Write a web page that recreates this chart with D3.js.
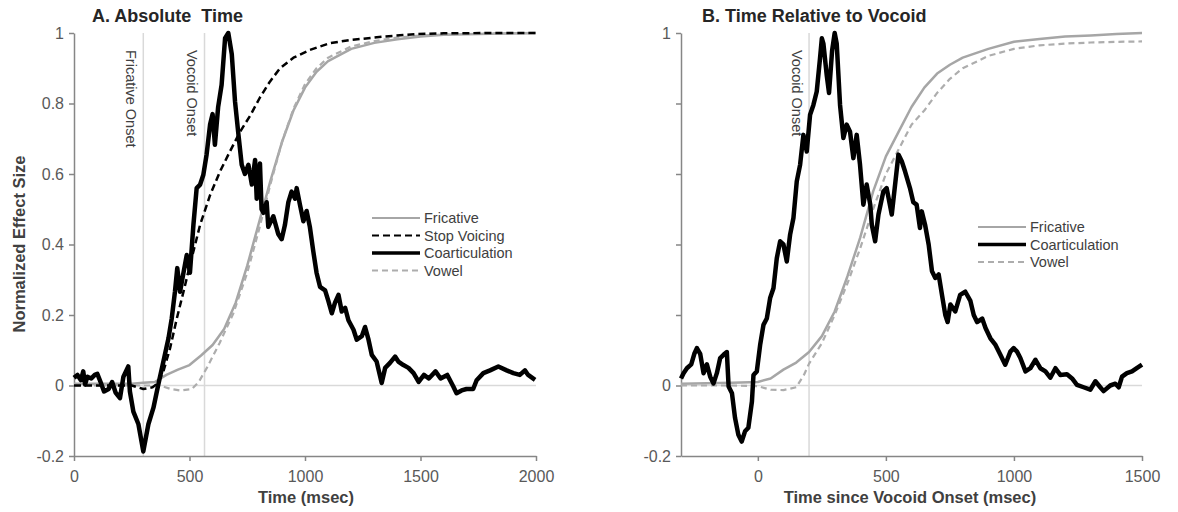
<!DOCTYPE html>
<html><head><meta charset="utf-8">
<script src="https://cdn.jsdelivr.net/npm/d3@7/dist/d3.min.js"></script>
<style>
html,body{margin:0;padding:0;background:#fff;}
svg{display:block;font-family:"Liberation Sans",Arial,sans-serif;}
</style></head>
<body><svg id="chart" width="1178" height="512"></svg>
<script>
// ---------- DATA ----------
const titleA = "A. Absolute\u00a0 Time";
const titleB = "B. Time Relative to Vocoid";
const yLabel = "Normalized Effect Size";
const xLabelA = "Time (msec)";
const xLabelB = "Time since Vocoid Onset (msec)";
const yTicks = [-0.2, 0, 0.2, 0.4, 0.6, 0.8, 1];
const yTickLabelsA = ["-0.2", "0", "0.2", "0.4", "0.6", "0.8", "1"];
const yTickLabelsB = ["-0.2", "0", "", "", "", "", "1"];
const xTicksA = [0, 500, 1000, 1500, 2000];
const xTicksB = [0, 500, 1000, 1500];
const xDomainA = [0, 2000];
const xDomainB = [-300, 1500];
const yDomain = [-0.2, 1];
const markersA = [{t: 300, label: "Fricative Onset"}, {t: 565, label: "Vocoid Onset"}];
const markersB = [{t: 200, label: "Vocoid Onset"}];
const seriesNamesA = ["Fricative", "Stop Voicing", "Coarticulation", "Vowel"];
const seriesNamesB = ["Fricative", "Coarticulation", "Vowel"];

// Panel A series
const fricTimeA = [0, 250, 300, 350, 400, 450, 500, 550, 600, 650, 700, 750, 800, 850, 900, 950, 1000, 1050, 1100, 1200, 1300, 1400, 1500, 1600, 1800, 2000];
const fricA     = [0.005, 0.005, 0.008, 0.01, 0.03, 0.045, 0.058, 0.085, 0.115, 0.16, 0.235, 0.34, 0.46, 0.58, 0.69, 0.78, 0.845, 0.89, 0.92, 0.955, 0.972, 0.982, 0.99, 0.995, 0.998, 1.0];
const stopTimeA = [0, 250, 300, 340, 360, 387, 416, 445, 474, 502, 546, 589, 632, 675, 719, 762, 805, 848, 892, 950, 1021, 1108, 1195, 1342, 1486, 1600, 1800, 2000];
const stopA     = [0.0, 0.0, -0.01, -0.005, 0.005, 0.04, 0.106, 0.19, 0.266, 0.342, 0.456, 0.54, 0.607, 0.664, 0.72, 0.765, 0.817, 0.862, 0.9, 0.93, 0.952, 0.971, 0.98, 0.99, 0.997, 0.999, 1.0, 1.0];
const vowelTimeA = [0, 300, 370, 420, 460, 510, 540, 575, 630, 690, 750, 800, 850, 900, 950, 1000, 1050, 1100, 1200, 1300, 1400, 1500, 1700, 2000];
const vowelA     = [0.0, 0.0, 0.0, -0.01, -0.014, -0.01, 0.01, 0.05, 0.12, 0.205, 0.32, 0.44, 0.57, 0.69, 0.785, 0.855, 0.9, 0.93, 0.962, 0.977, 0.987, 0.993, 0.998, 1.0];
const coartTimeA = [0, 15, 30, 40, 48, 58, 75, 90, 101, 115, 130, 150, 165, 180, 199, 214, 235, 242, 257, 279, 300, 322, 344, 365, 387, 409, 423, 437, 447, 459, 474, 488, 502, 517, 531, 546, 560, 574, 589, 600, 610, 624, 639, 654, 668, 683, 697, 712, 726, 740, 755, 770, 784, 791, 805, 812, 820, 834, 841, 863, 884, 899, 913, 928, 942, 957, 964, 978, 993, 1007, 1021, 1036, 1050, 1065, 1087, 1101, 1116, 1130, 1145, 1159, 1174, 1188, 1210, 1224, 1246, 1260, 1275, 1289, 1310, 1332, 1347, 1368, 1390, 1404, 1426, 1448, 1470, 1492, 1515, 1536, 1565, 1587, 1616, 1642, 1656, 1678, 1699, 1728, 1743, 1772, 1801, 1837, 1873, 1902, 1930, 1952, 1966, 1996];
const coartA     = [0.022, 0.03, 0.015, 0.04, 0.003, 0.025, 0.02, 0.03, 0.033, 0.01, -0.017, -0.01, 0.01, -0.02, -0.036, 0.025, 0.054, -0.017, -0.074, -0.11, -0.187, -0.11, -0.063, 0.003, 0.068, 0.134, 0.19, 0.266, 0.333, 0.266, 0.32, 0.37, 0.32, 0.456, 0.56, 0.57, 0.598, 0.655, 0.74, 0.77, 0.683, 0.79, 0.853, 0.985, 1.0, 0.94, 0.806, 0.711, 0.626, 0.6, 0.626, 0.57, 0.64, 0.53, 0.63, 0.5, 0.49, 0.52, 0.45, 0.48, 0.43, 0.415, 0.455, 0.52, 0.55, 0.53, 0.56, 0.513, 0.466, 0.495, 0.45, 0.38, 0.32, 0.28, 0.27, 0.24, 0.205, 0.235, 0.257, 0.21, 0.22, 0.185, 0.158, 0.13, 0.14, 0.166, 0.13, 0.087, 0.068, 0.007, 0.05, 0.064, 0.082, 0.068, 0.058, 0.05, 0.035, 0.01, 0.03, 0.02, 0.04, 0.02, 0.03, -0.003, -0.022, -0.014, -0.01, -0.01, 0.015, 0.035, 0.043, 0.054, 0.043, 0.035, 0.03, 0.043, 0.03, 0.016];

// Panel B series
const fricTimeB = [-300, -100, 0, 50, 100, 150, 200, 250, 300, 350, 400, 450, 500, 550, 600, 650, 700, 750, 800, 900, 1000, 1100, 1200, 1300, 1400, 1500];
const fricB     = [0.005, 0.008, 0.01, 0.02, 0.045, 0.065, 0.095, 0.14, 0.21, 0.31, 0.42, 0.55, 0.65, 0.72, 0.79, 0.845, 0.885, 0.91, 0.93, 0.955, 0.975, 0.983, 0.99, 0.993, 0.997, 1.0];
const vowelTimeB = [-300, -100, 0, 50, 100, 150, 180, 200, 250, 300, 350, 400, 450, 500, 550, 600, 650, 700, 750, 800, 900, 1000, 1100, 1200, 1300, 1400, 1500];
const vowelB     = [0.0, 0.0, -0.002, -0.012, -0.013, -0.005, 0.03, 0.062, 0.12, 0.2, 0.29, 0.39, 0.5, 0.6, 0.67, 0.74, 0.78, 0.83, 0.87, 0.9, 0.935, 0.955, 0.965, 0.97, 0.973, 0.975, 0.976];
const coartTimeB = [-300, -290, -277, -260, -248, -238, -225, -212, -199, -186, -173, -160, -147, -134, -121, -114, -101, -89, -76, -63, -50, -37, -23, -17, -4, 9, 22, 35, 48, 61, 74, 87, 100, 113, 126, 139, 152, 165, 178, 191, 204, 217, 230, 243, 250, 256, 269, 278, 290, 300, 308, 321, 334, 347, 360, 373, 386, 399, 412, 425, 439, 445, 458, 471, 490, 503, 523, 536, 549, 562, 575, 594, 607, 620, 633, 640, 653, 667, 680, 693, 706, 719, 732, 741, 752, 771, 790, 810, 830, 843, 856, 876, 889, 908, 928, 947, 966, 986, 999, 1012, 1025, 1045, 1064, 1084, 1103, 1123, 1142, 1162, 1181, 1207, 1227, 1246, 1272, 1298, 1318, 1337, 1350, 1376, 1396, 1409, 1422, 1441, 1461, 1481, 1500];
const coartB     = [0.02, 0.035, 0.049, 0.06, 0.09, 0.106, 0.09, 0.035, 0.06, 0.025, 0.006, 0.035, 0.078, 0.087, 0.095, -0.003, -0.022, -0.092, -0.14, -0.159, -0.13, -0.12, -0.045, 0.03, 0.04, 0.115, 0.172, 0.19, 0.248, 0.276, 0.361, 0.409, 0.4, 0.352, 0.428, 0.475, 0.579, 0.626, 0.711, 0.664, 0.768, 0.796, 0.834, 0.93, 0.985, 0.97, 0.88, 0.83, 0.95, 1.0, 0.97, 0.796, 0.702, 0.74, 0.72, 0.645, 0.711, 0.626, 0.513, 0.57, 0.513, 0.456, 0.409, 0.485, 0.55, 0.56, 0.485, 0.57, 0.655, 0.636, 0.607, 0.56, 0.52, 0.513, 0.447, 0.494, 0.456, 0.4, 0.324, 0.305, 0.315, 0.257, 0.2, 0.18, 0.23, 0.21, 0.257, 0.266, 0.24, 0.2, 0.18, 0.19, 0.163, 0.134, 0.115, 0.087, 0.059, 0.096, 0.106, 0.096, 0.078, 0.04, 0.049, 0.073, 0.049, 0.04, 0.022, 0.049, 0.03, 0.032, 0.02, 0.002, -0.005, -0.012, 0.012, -0.005, -0.016, 0.0, 0.005, -0.005, 0.025, 0.035, 0.04, 0.05, 0.059];

// ---------- STYLES ----------
const styles = {
  "Fricative":      {stroke: "#a6a6a6", width: 2.5, dash: null},
  "Stop Voicing":   {stroke: "#000000", width: 2.5, dash: "7,4"},
  "Coarticulation": {stroke: "#000000", width: 4.5, dash: null},
  "Vowel":          {stroke: "#adadad", width: 2.2, dash: "6,4"}
};

const svg = d3.select("#chart");
const axisColor = "#868686";
const tickTextColor = "#595959";

function zip(ts, vs) { return ts.map((t, i) => [t, vs[i]]); }

function panel(opts) {
  const x = d3.scaleLinear().domain(opts.xDomain).range(opts.xRange);
  const y = d3.scaleLinear().domain(yDomain).range([456, 33]);
  const g = svg.append("g");

  // reference lines
  g.append("line").attr("x1", x(opts.xDomain[0])).attr("x2", x(opts.xDomain[1]))
    .attr("y1", y(0)).attr("y2", y(0)).attr("stroke", "#d9d9d9").attr("stroke-width", 1.5);
  opts.markers.forEach(m => {
    g.append("line").attr("x1", x(m.t)).attr("x2", x(m.t))
      .attr("y1", y(1)).attr("y2", y(-0.2)).attr("stroke", "#d9d9d9").attr("stroke-width", 1.5);
    g.append("text").attr("transform", `translate(${x(m.t) - 17.5},50) rotate(90)`)
      .attr("font-size", 14.5).attr("fill", "#404040").text(m.label);
  });

  // axes
  const ya = g.append("g").attr("transform", `translate(${opts.xRange[0]},0)`)
    .call(d3.axisLeft(y).tickValues(yTicks).tickSize(5).tickSizeOuter(0).tickPadding(5)
      .tickFormat((d, i) => opts.yLabels[i]));
  const xa = g.append("g").attr("transform", `translate(0,${y(-0.2)})`)
    .call(d3.axisBottom(x).tickValues(opts.xTicks).tickSize(5).tickSizeOuter(0).tickPadding(10)
      .tickFormat(d3.format("d")));
  [ya, xa].forEach(a => {
    a.select(".domain").attr("stroke", axisColor).attr("stroke-width", 1.5);
    a.selectAll(".tick line").attr("stroke", axisColor).attr("stroke-width", 1.5);
    a.selectAll(".tick text").attr("fill", tickTextColor).attr("font-size", 16)
      .attr("font-family", "Liberation Sans, Arial, sans-serif");
  });

  // lines
  const line = d3.line().x(d => x(d[0])).y(d => y(d[1]));
  opts.series.forEach(s => {
    const st = styles[s.name];
    g.append("path").datum(zip(s.t, s.v)).attr("d", line)
      .attr("fill", "none").attr("stroke", st.stroke).attr("stroke-width", st.width)
      .attr("stroke-dasharray", st.dash).attr("stroke-linejoin", "round");
  });

  // legend
  opts.legendNames.forEach((n, i) => {
    const st = styles[n];
    const yy = opts.legendY + i * 17.5;
    g.append("line").attr("x1", opts.legendX).attr("x2", opts.legendX + 48)
      .attr("y1", yy).attr("y2", yy).attr("stroke", st.stroke)
      .attr("stroke-width", n === "Coarticulation" ? 3.5 : 2.2).attr("stroke-dasharray", st.dash);
    g.append("text").attr("x", opts.legendX + 52).attr("y", yy).attr("dy", "0.35em")
      .attr("font-size", 14.5).attr("fill", "#404040").text(n);
  });

  // titles
  g.append("text").attr("x", opts.titleX).attr("y", 22).attr("font-size", 18)
    .attr("font-weight", "bold").attr("fill", "#262626").text(opts.title);
  g.append("text").attr("x", opts.xLabelX).attr("y", 503).attr("text-anchor", "middle")
    .attr("font-size", 16.5).attr("font-weight", "bold").attr("fill", "#404040").text(opts.xLabel);
}

panel({
  xDomain: xDomainA, xRange: [74, 536], xTicks: xTicksA, yLabels: yTickLabelsA,
  markers: markersA, title: titleA, titleX: 92, xLabel: xLabelA, xLabelX: 306,
  legendX: 372, legendY: 218, legendNames: seriesNamesA,
  series: [
    {name: "Fricative", t: fricTimeA, v: fricA},
    {name: "Vowel", t: vowelTimeA, v: vowelA},
    {name: "Stop Voicing", t: stopTimeA, v: stopA},
    {name: "Coarticulation", t: coartTimeA, v: coartA}
  ]
});
panel({
  xDomain: xDomainB, xRange: [681, 1142], xTicks: xTicksB, yLabels: yTickLabelsB,
  markers: markersB, title: titleB, titleX: 702, xLabel: xLabelB, xLabelX: 910,
  legendX: 978, legendY: 227, legendNames: seriesNamesB,
  series: [
    {name: "Fricative", t: fricTimeB, v: fricB},
    {name: "Vowel", t: vowelTimeB, v: vowelB},
    {name: "Coarticulation", t: coartTimeB, v: coartB}
  ]
});

svg.append("text").attr("transform", "translate(25,244) rotate(-90)").attr("text-anchor", "middle")
  .attr("font-size", 16.5).attr("font-weight", "bold").attr("fill", "#404040").text(yLabel);
</script></body></html>
